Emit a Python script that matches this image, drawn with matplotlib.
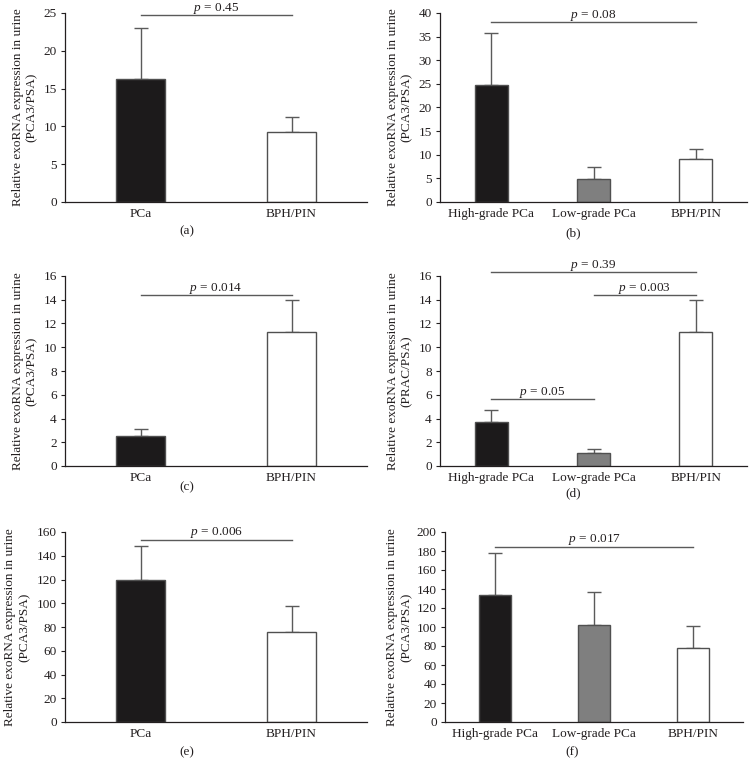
import matplotlib
matplotlib.use("Agg")
import matplotlib.pyplot as plt

plt.rcParams['font.family'] = ['Liberation Serif', 'DejaVu Serif']
plt.rcParams['mathtext.fontset'] = 'custom'
plt.rcParams['mathtext.rm'] = 'Liberation Serif'
plt.rcParams['mathtext.it'] = 'Liberation Serif:italic'

INK = '#231f20'
FS = 9.5

cats2 = ["PCa", "BPH/PIN"]
cats3 = ["High-grade PCa", "Low-grade PCa", "BPH/PIN"]
colors2 = ['#1c1a1b', 'white']
colors3 = ['#1c1a1b', '#7f7f7f', 'white']

a_mean = [16.3, 9.2]
a_err = [6.7, 2.05]
b_mean = [24.8, 4.8, 9.2]
b_err = [10.9, 2.7, 2.05]
c_mean = [2.5, 11.3]
c_err = [0.65, 2.7]
d_mean = [3.7, 1.1, 11.3]
d_err = [1.0, 0.35, 2.7]
e_mean = [119.5, 75.5]
e_err = [28.8, 22.4]
f_mean = [133.5, 101.7, 78.0]
f_err = [44.2, 35.0, 23.0]

ylabel_a = "Relative exoRNA expression in urine\n(PCA3/PSA)"
ylabel_d = "Relative exoRNA expression in urine\n(PRAC/PSA)"

# p-value brackets: (left bar, right bar, level, text)
a_p = [(0, 1, 24.7, "0.45")]
b_p = [(0, 2, 38.1, "0.08")]
c_p = [(0, 1, 14.4, "0.014")]
d_p = [(0, 2, 16.3, "0.39"), (1, 2, 14.4, "0.003"), (0, 1, 5.62, "0.05")]
e_p = [(0, 1, 153.6, "0.006")]
f_p = [(0, 2, 184.3, "0.017")]

W, H = 750, 777
fig = plt.figure(figsize=(W / 100, H / 100), dpi=100)


def px_axes(l, r, t, b):
    return fig.add_axes([l / W, (H - b) / H, (r - l) / W, (b - t) / H])


def panel(ax, cats, means, errs, colors, ymax, ystep, ylabel, pvals, lab_x, tag, tag_xy):
    x = list(range(len(cats)))
    ax.bar(x, means, width=0.32, color=colors, edgecolor='#505050', linewidth=1.0, zorder=2)
    ax.errorbar(x, means, yerr=[[0] * len(errs), errs], fmt='none', ecolor='#5a5a5a',
                elinewidth=1.0, capsize=5.2, capthick=1.0, zorder=1)
    ax.set_xlim(-0.5, len(cats) - 0.5)
    ax.set_ylim(0, ymax)
    ax.set_yticks([i * ystep for i in range(int(round(ymax / ystep)) + 1)])
    ax.set_xticks(x)
    ax.set_xticklabels(cats, fontsize=FS, color=INK)
    ax.tick_params(axis='x', length=0, pad=4)
    ax.tick_params(axis='y', length=3, width=0.8, labelsize=FS, labelcolor=INK, color=INK, pad=3)
    for s in ['top', 'right']:
        ax.spines[s].set_visible(False)
    for s in ['left', 'bottom']:
        ax.spines[s].set_color(INK)
        ax.spines[s].set_linewidth(0.9)
    ax.set_ylabel(ylabel, fontsize=FS, color=INK, linespacing=1.2)
    ax.yaxis.set_label_coords(lab_x, 0.5)
    for i0, i1, lvl, txt in pvals:
        ax.plot([i0, i1], [lvl, lvl], color='#5a5a5a', lw=1.0, clip_on=False)
        ax.annotate("$p$ = " + txt, xy=((i0 + i1) / 2, lvl), xytext=(0, 3.2),
                    textcoords='offset points', ha='center', va='baseline',
                    fontsize=FS, color=INK, annotation_clip=False)
    fig.text(tag_xy[0] / W, 1 - tag_xy[1] / H, tag, ha='center', va='center',
             fontsize=FS, color=INK)


ax = px_axes(65, 367, 13, 202)
panel(ax, cats2, a_mean, a_err, colors2, 25, 5, ylabel_a, a_p, -0.09, "(a)", (187, 231))
ax = px_axes(440, 747, 13, 202)
panel(ax, cats3, b_mean, b_err, colors3, 40, 5, ylabel_a, b_p, -0.09, "(b)", (573, 233))
ax = px_axes(65, 367, 276, 466)
panel(ax, cats2, c_mean, c_err, colors2, 16, 2, ylabel_a, c_p, -0.09, "(c)", (187, 487))
ax = px_axes(440, 747, 276, 466)
panel(ax, cats3, d_mean, d_err, colors3, 16, 2, ylabel_d, d_p, -0.09, "(d)", (573, 493))
ax = px_axes(65, 367, 532, 722)
panel(ax, cats2, e_mean, e_err, colors2, 160, 20, ylabel_a, e_p, -0.115, "(e)", (187, 752))
ax = px_axes(445, 743, 532, 722)
panel(ax, cats3, f_mean, f_err, colors3, 200, 20, ylabel_a, f_p, -0.11, "(f)", (572, 752))

fig.savefig("out.png", dpi=100)
